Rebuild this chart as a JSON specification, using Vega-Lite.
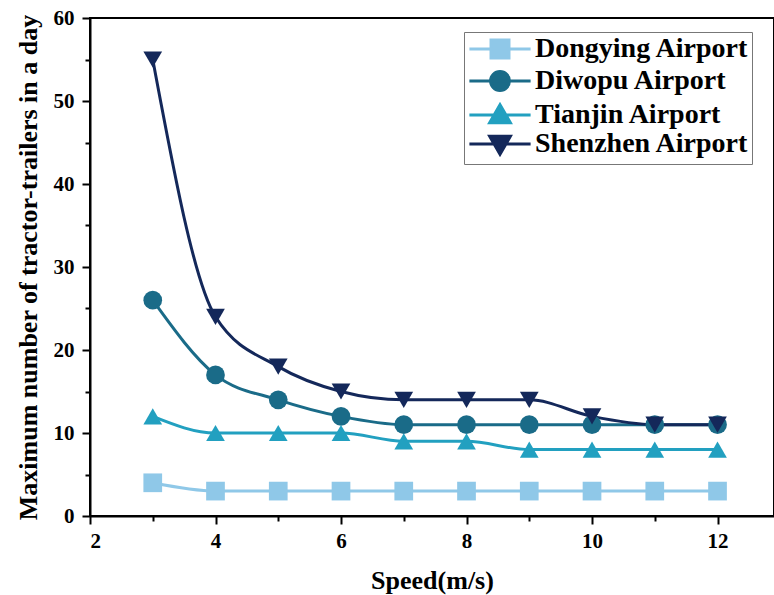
{
  "$schema": "https://vega.github.io/schema/vega-lite/v6.json",
  "width": 684,
  "height": 498,
  "autosize": "none",
  "padding": {"left": 90, "top": 18, "right": 0, "bottom": 79},
  "background": "white",
  "config": {
    "view": {"stroke": "black", "strokeWidth": 2},
    "font": "Liberation Serif",
    "legend": {"labelFont": "Liberation Serif", "labelFontWeight": "bold"},
    "axis": {"domainColor": "black", "domainWidth": 2, "tickColor": "black", "tickWidth": 2, "grid": false, "labelFont": "Liberation Serif", "labelFontWeight": "bold", "labelColor": "black", "titleFont": "Liberation Serif", "titleFontWeight": "bold", "titleColor": "black"}
  },
  "data": {"values": [
    {"speed": 3, "value": 4, "airport": "Dongying Airport"},
    {"speed": 4, "value": 3, "airport": "Dongying Airport"},
    {"speed": 5, "value": 3, "airport": "Dongying Airport"},
    {"speed": 6, "value": 3, "airport": "Dongying Airport"},
    {"speed": 7, "value": 3, "airport": "Dongying Airport"},
    {"speed": 8, "value": 3, "airport": "Dongying Airport"},
    {"speed": 9, "value": 3, "airport": "Dongying Airport"},
    {"speed": 10, "value": 3, "airport": "Dongying Airport"},
    {"speed": 11, "value": 3, "airport": "Dongying Airport"},
    {"speed": 12, "value": 3, "airport": "Dongying Airport"},
    {"speed": 3, "value": 26, "airport": "Diwopu Airport"},
    {"speed": 4, "value": 17, "airport": "Diwopu Airport"},
    {"speed": 5, "value": 14, "airport": "Diwopu Airport"},
    {"speed": 6, "value": 12, "airport": "Diwopu Airport"},
    {"speed": 7, "value": 11, "airport": "Diwopu Airport"},
    {"speed": 8, "value": 11, "airport": "Diwopu Airport"},
    {"speed": 9, "value": 11, "airport": "Diwopu Airport"},
    {"speed": 10, "value": 11, "airport": "Diwopu Airport"},
    {"speed": 11, "value": 11, "airport": "Diwopu Airport"},
    {"speed": 12, "value": 11, "airport": "Diwopu Airport"},
    {"speed": 3, "value": 12, "airport": "Tianjin Airport"},
    {"speed": 4, "value": 10, "airport": "Tianjin Airport"},
    {"speed": 5, "value": 10, "airport": "Tianjin Airport"},
    {"speed": 6, "value": 10, "airport": "Tianjin Airport"},
    {"speed": 7, "value": 9, "airport": "Tianjin Airport"},
    {"speed": 8, "value": 9, "airport": "Tianjin Airport"},
    {"speed": 9, "value": 8, "airport": "Tianjin Airport"},
    {"speed": 10, "value": 8, "airport": "Tianjin Airport"},
    {"speed": 11, "value": 8, "airport": "Tianjin Airport"},
    {"speed": 12, "value": 8, "airport": "Tianjin Airport"},
    {"speed": 3, "value": 55, "airport": "Shenzhen Airport"},
    {"speed": 4, "value": 24, "airport": "Shenzhen Airport"},
    {"speed": 5, "value": 18, "airport": "Shenzhen Airport"},
    {"speed": 6, "value": 15, "airport": "Shenzhen Airport"},
    {"speed": 7, "value": 14, "airport": "Shenzhen Airport"},
    {"speed": 8, "value": 14, "airport": "Shenzhen Airport"},
    {"speed": 9, "value": 14, "airport": "Shenzhen Airport"},
    {"speed": 10, "value": 12, "airport": "Shenzhen Airport"},
    {"speed": 11, "value": 11, "airport": "Shenzhen Airport"},
    {"speed": 12, "value": 11, "airport": "Shenzhen Airport"}
  ]},
  "layer": [
    {
      "mark": {"type": "line", "interpolate": "monotone", "strokeWidth": 3},
      "encoding": {
        "x": {"field": "speed", "type": "quantitative", "scale": {"domain": [2, 12.9], "nice": false, "zero": false},
              "axis": {"orient": "bottom", "values": [2, 4, 6, 8, 10, 12], "tickSize": 8, "labelPadding": 6, "labelFontSize": 21, "title": "Speed(m/s)", "titleFontSize": 26, "titlePadding": 16, "titleX": 342}},
        "y": {"field": "value", "type": "quantitative", "scale": {"domain": [0, 60], "nice": false},
              "axis": {"orient": "left", "values": [0, 10, 20, 30, 40, 50, 60], "tickSize": 8, "labelPadding": 8, "labelFontSize": 21, "title": "Maximum number of tractor-trailers in a day", "titleFontSize": 26, "titlePadding": 12}},
        "color": {"field": "airport", "type": "nominal", "legend": null,
                  "scale": {"domain": ["Dongying Airport", "Diwopu Airport", "Tianjin Airport", "Shenzhen Airport"], "range": ["#8FC8E8", "#1A6B88", "#22A0C0", "#14285A"]}}
      }
    },
    {
      "mark": {"type": "point", "filled": true, "opacity": 1, "size": 350},
      "encoding": {
        "x": {"field": "speed", "type": "quantitative",
              "axis": {"orient": "bottom", "values": [3, 5, 7, 9, 11], "tickSize": 5, "labels": false, "domain": false, "title": null}},
        "y": {"field": "value", "type": "quantitative",
              "axis": {"orient": "left", "values": [5, 15, 25, 35, 45, 55], "tickSize": 5, "labels": false, "domain": false, "title": null}},
        "color": {"field": "airport", "type": "nominal", "legend": null},
        "shape": {"field": "airport", "type": "nominal", "legend": null,
                  "scale": {"domain": ["Dongying Airport", "Diwopu Airport", "Tianjin Airport", "Shenzhen Airport"], "range": ["square", "circle", "triangle-up", "triangle-down"]}}
      }
    },
    {
      "mark": {"type": "point", "filled": true, "opacity": 0},
      "encoding": {
        "x": {"field": "speed", "type": "quantitative", "axis": null},
        "y": {"field": "value", "type": "quantitative", "axis": null},
        "color": {"field": "airport", "type": "nominal",
                  "legend": {"title": null, "orient": "none", "legendX": 374, "legendY": 14, "labelFontSize": 28, "labelFont": "Liberation Serif", "labelFontWeight": "bold", "labelColor": "black", "labelLimit": 400, "symbolSize": 324, "symbolOpacity": 1, "symbolStrokeWidth": 3, "symbolOffset": 19, "labelOffset": 21, "rowPadding": 1, "padding": 3, "strokeColor": "#777777", "fillColor": "white",
                    "encode": {"symbols": {"update": {"stroke": {"scale": "color", "field": "value"}, "strokeWidth": {"value": 3}}}}}},
        "shape": {"field": "airport", "type": "nominal",
                  "scale": {"domain": ["Dongying Airport", "Diwopu Airport", "Tianjin Airport", "Shenzhen Airport"], "range": ["M-3.4,0H3.4M-1,-1H1V1H-1Z", "M-3.4,0H3.4M-1.05,0A1.05,1.05,0,1,0,1.05,0A1.05,1.05,0,1,0,-1.05,0Z", "M-3.4,0H3.4M0,-1.15L1.15,0.85L-1.15,0.85Z", "M-3.4,0H3.4M0,1.15L1.15,-0.85L-1.15,-0.85Z"]},
                  "legend": {"title": null, "orient": "none", "legendX": 374, "legendY": 14, "labelFontSize": 28, "labelFont": "Liberation Serif", "labelFontWeight": "bold", "labelColor": "black", "labelLimit": 400, "symbolSize": 324, "symbolOpacity": 1, "symbolStrokeWidth": 3, "symbolOffset": 19, "labelOffset": 21, "rowPadding": 1, "padding": 3, "strokeColor": "#777777", "fillColor": "white",
                    "encode": {"symbols": {"update": {"stroke": {"scale": "color", "field": "value"}, "strokeWidth": {"value": 3}}}}}}
      }
    }
  ],
  "resolve": {"scale": {"shape": "independent"}, "axis": {"x": "independent", "y": "independent"}, "legend": {"color": "independent", "shape": "independent"}}
}
